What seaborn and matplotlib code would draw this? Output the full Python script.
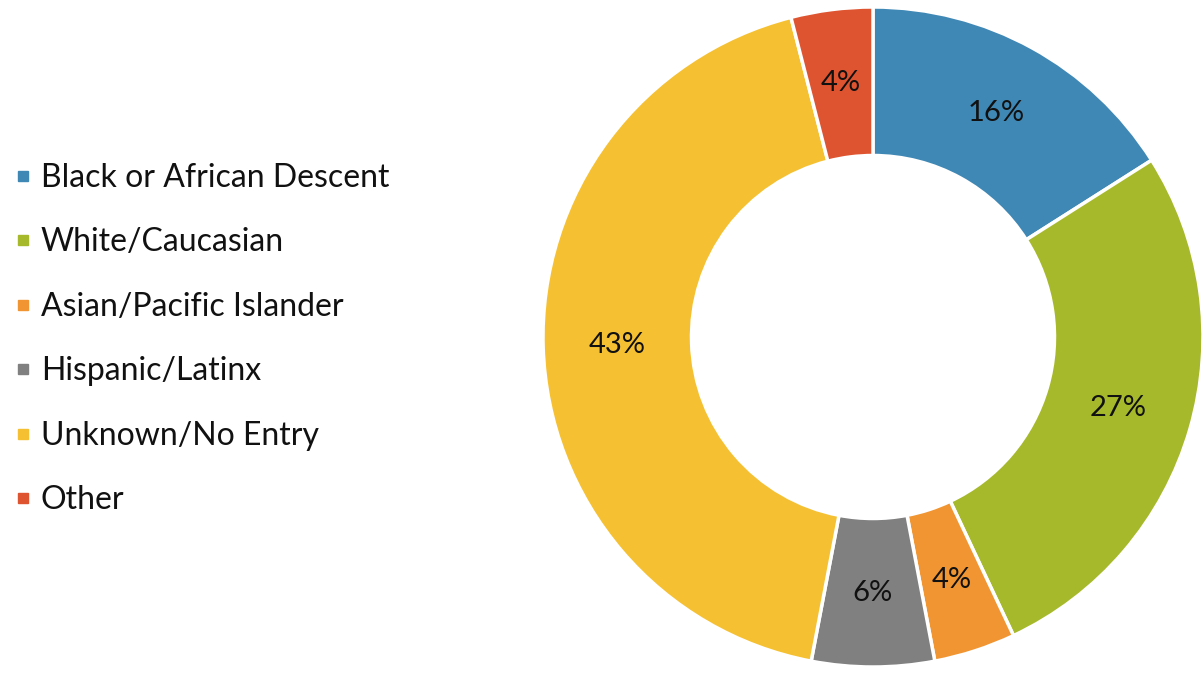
import matplotlib
matplotlib.use("Agg")
import matplotlib.pyplot as plt
from matplotlib.lines import Line2D
import numpy as np
import seaborn as sns

categories = ["Black or African Descent", "White/Caucasian", "Asian/Pacific Islander",
              "Hispanic/Latinx", "Unknown/No Entry", "Other"]
shares = [16, 27, 4, 6, 43, 4]
colors = ["#3F88B5", "#A6B92B", "#F09531", "#808080", "#F5C132", "#DF5430"]

sns.set_theme(style="white")
plt.rcParams["font.family"] = ["Lato", "DejaVu Sans"]
palette = sns.color_palette(colors)

W, H = 1202, 674
fig = plt.figure(figsize=(W / 100, H / 100), dpi=100)
fig.patch.set_facecolor("white")

# donut: centre (873, 337) px, outer radius 330 px
cx, cy, r = 873, 337, 330
ax = fig.add_axes([(cx - r) / W, (H - cy - r) / H, 2 * r / W, 2 * r / H])
ring = 0.45
wedges, _ = ax.pie(
    shares, colors=palette, startangle=90, counterclock=False, radius=1.0,
    wedgeprops=dict(width=ring, edgecolor="white", linewidth=2.5),
)
ax.set_xlim(-1, 1)
ax.set_ylim(-1, 1)
ax.set_aspect("equal")
ax.axis("off")

mid_r = 1.0 - ring / 2
for w, val in zip(wedges, shares):
    ang = np.deg2rad((w.theta1 + w.theta2) / 2)
    ax.text(mid_r * np.cos(ang), mid_r * np.sin(ang), f"{val}%",
            ha="center", va="center", fontsize=21, color="#111111")

handles = [Line2D([0], [0], marker="s", linestyle="none", markersize=7.5,
                  markerfacecolor=c, markeredgecolor=c) for c in palette]
fig.legend(handles, categories, loc="center left",
           bbox_to_anchor=(0.002, (H - 339) / H), frameon=False,
           borderaxespad=0.0, borderpad=0.3,
           fontsize=23, labelspacing=1.08, handletextpad=0.2,
           handlelength=0.7, labelcolor="#111111")

fig.savefig("out.png", dpi=100, facecolor="white")
